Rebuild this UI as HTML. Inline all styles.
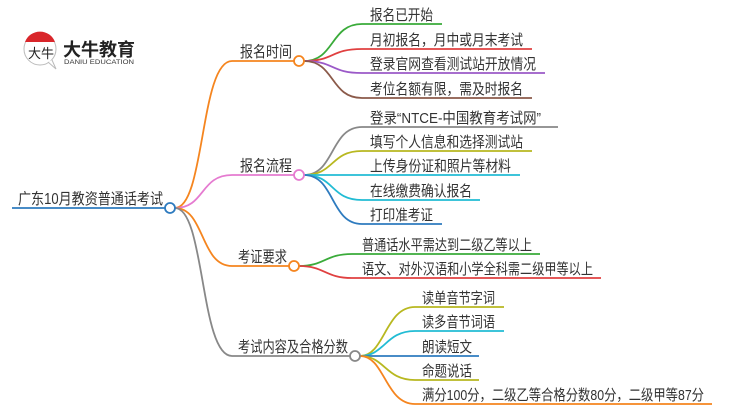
<!DOCTYPE html>
<html><head><meta charset="utf-8"><style>
html,body{margin:0;padding:0;background:#fff;}
svg{display:block;}
text{font-family:"Liberation Sans","Noto Sans CJK SC",sans-serif;fill:#333;}
</style></head><body>
<svg width="750" height="410" viewBox="0 0 750 410" xmlns="http://www.w3.org/2000/svg">
<g>
<circle cx="40" cy="49" r="16" fill="#fff" stroke="#bbb" stroke-width="1"/>
<path d="M25,42 A16,16 0 0 1 55,42 Z" fill="#d9262b"/>
<path d="M48,62 L56,69 L52,60" fill="#fff" stroke="#bbb" stroke-width="1"/>
<text x="28" y="58" font-size="13" style="fill:#222">大牛</text>
<text x="63" y="56" font-size="18" font-weight="bold" style="fill:#222" textLength="72" lengthAdjust="spacingAndGlyphs">大牛教育</text>
<text x="64" y="64" font-size="6.5" style="fill:#333" textLength="70" lengthAdjust="spacingAndGlyphs">DANIU EDUCATION</text>
</g>
<g fill="none" stroke-width="1.8">
<line x1="12" y1="208" x2="165" y2="208" stroke="#2e7bbf"/>
<path d="M175,208 C205,208 200,61 232,61 L294,61" stroke="#f5851f"/>
<path d="M175,208 C205,208 200,175 232,175 L294,175" stroke="#e57bd0"/>
<path d="M175,208 C205,208 200,266 232,266 L289,266" stroke="#f5851f"/>
<path d="M175,208 C205,208 200,356 232,356 L350,356" stroke="#888"/>
<path d="M304,61 C335,61 330,24 362,24 L442,24" stroke="#3aab3a"/>
<path d="M304,61 C335,61 330,49 362,49 L532,49" stroke="#e04040"/>
<path d="M304,61 C335,61 330,73 362,73 L545,73" stroke="#9b59c8"/>
<path d="M304,61 C335,61 330,98 362,98 L532,98" stroke="#8b5a4a"/>
<path d="M304,175 C335,175 330,127 362,127 L558,127" stroke="#888"/>
<path d="M304,175 C335,175 330,151 362,151 L532,151" stroke="#b8b820"/>
<path d="M304,175 L520,175" stroke="#22bcd4"/>
<path d="M304,175 C335,175 330,200 362,200 L480,200" stroke="#22bcd4"/>
<path d="M304,175 C335,175 330,224 362,224 L442,224" stroke="#2e7bbf"/>
<path d="M299,266 C325,266 325,254 352,254 L540,254" stroke="#3aab3a"/>
<path d="M299,266 C325,266 325,278 352,278 L601,278" stroke="#e04040"/>
<path d="M360,356 C385,356 385,307 415,307 L504,307" stroke="#b8b820"/>
<path d="M360,356 C385,356 385,331 415,331 L504,331" stroke="#22bcd4"/>
<path d="M360,356 L479,356" stroke="#2e7bbf"/>
<path d="M360,356 C385,356 385,380 415,380 L479,380" stroke="#b8b820"/>
<path d="M360,356 C385,356 385,404 415,404 L712,404" stroke="#f5851f"/>
</g>
<g fill="#fff" stroke-width="1.8">
<circle cx="170" cy="208" r="5" stroke="#2e7bbf"/>
<circle cx="299" cy="61" r="5" stroke="#f5851f"/>
<circle cx="299" cy="175" r="5" stroke="#e57bd0"/>
<circle cx="294" cy="266" r="5" stroke="#f5851f"/>
<circle cx="355" cy="356" r="5" stroke="#888"/>
</g>
<g font-size="15.5">
<text x="18" y="204" textLength="145" lengthAdjust="spacingAndGlyphs">广东10月教资普通话考试</text>
<text x="240" y="57" textLength="52" lengthAdjust="spacingAndGlyphs">报名时间</text>
<text x="240" y="171" textLength="52" lengthAdjust="spacingAndGlyphs">报名流程</text>
<text x="238" y="262" textLength="49" lengthAdjust="spacingAndGlyphs">考证要求</text>
<text x="238" y="352" textLength="110" lengthAdjust="spacingAndGlyphs">考试内容及合格分数</text>
</g>
<g font-size="15">
<text x="370" y="20" textLength="63" lengthAdjust="spacingAndGlyphs">报名已开始</text>
<text x="370" y="45" textLength="153" lengthAdjust="spacingAndGlyphs">月初报名，月中或月末考试</text>
<text x="370" y="69" textLength="166" lengthAdjust="spacingAndGlyphs">登录官网查看测试站开放情况</text>
<text x="370" y="94" textLength="153" lengthAdjust="spacingAndGlyphs">考位名额有限，需及时报名</text>
<text x="370" y="123" textLength="171" lengthAdjust="spacingAndGlyphs">登录“NTCE-中国教育考试网”</text>
<text x="370" y="147" textLength="153" lengthAdjust="spacingAndGlyphs">填写个人信息和选择测试站</text>
<text x="370" y="171" textLength="141" lengthAdjust="spacingAndGlyphs">上传身份证和照片等材料</text>
<text x="370" y="196" textLength="102" lengthAdjust="spacingAndGlyphs">在线缴费确认报名</text>
<text x="370" y="220" textLength="63" lengthAdjust="spacingAndGlyphs">打印准考证</text>
<text x="362" y="250" textLength="170" lengthAdjust="spacingAndGlyphs">普通话水平需达到二级乙等以上</text>
<text x="362" y="274" textLength="231" lengthAdjust="spacingAndGlyphs">语文、对外汉语和小学全科需二级甲等以上</text>
<text x="422" y="303" textLength="73" lengthAdjust="spacingAndGlyphs">读单音节字词</text>
<text x="422" y="327" textLength="73" lengthAdjust="spacingAndGlyphs">读多音节词语</text>
<text x="422" y="352" textLength="50" lengthAdjust="spacingAndGlyphs">朗读短文</text>
<text x="422" y="376" textLength="50" lengthAdjust="spacingAndGlyphs">命题说话</text>
<text x="422" y="400" textLength="282" lengthAdjust="spacingAndGlyphs">满分100分，二级乙等合格分数80分，二级甲等87分</text>
</g>
</svg>
</body></html>
